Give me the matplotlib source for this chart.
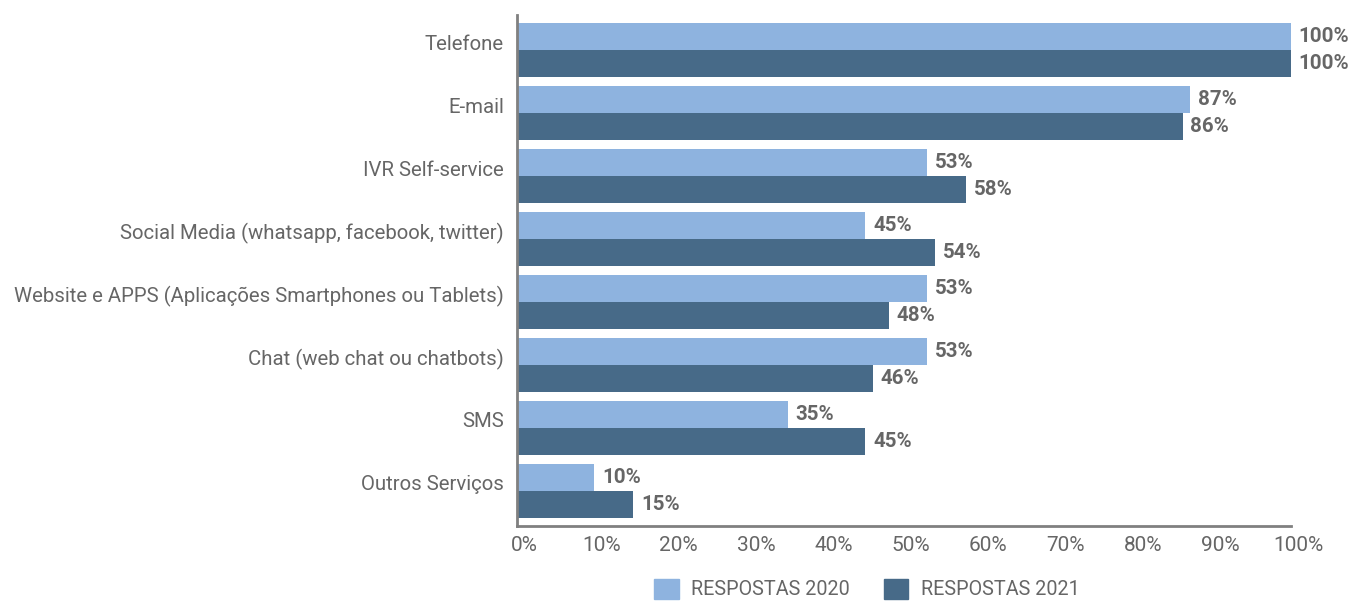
import numpy as np
import matplotlib.pyplot as plt
from matplotlib.patches import Patch
from matplotlib.transforms import ScaledTranslation

canais = ['Telefone', 'E-mail', 'IVR Self-service',
          'Social Media (whatsapp, facebook, twitter)',
          'Website e APPS (Aplicações Smartphones ou Tablets)',
          'Chat (web chat ou chatbots)', 'SMS', 'Outros Serviços']
resp_2020 = [100, 87, 53, 45, 53, 53, 35, 10]
resp_2021 = [100, 86, 58, 54, 48, 46, 45, 15]

cor_2020 = '#8EB3DF'
cor_2021 = '#476A88'
cinza = '#666666'

plt.rcParams['font.family'] = ['Roboto', 'DejaVu Sans']

fig = plt.figure(figsize=(13.54, 6.02), dpi=100)
ax = fig.add_axes([517 / 1354, 1 - 526 / 602, 774 / 1354, 511 / 602])

y = np.arange(len(canais))
h = 0.43
b1 = ax.barh(y - h / 2, resp_2020, height=h, color=cor_2020)
b2 = ax.barh(y + h / 2, resp_2021, height=h, color=cor_2021)

for barras, vals in ((b1, resp_2020), (b2, resp_2021)):
    for bar, v in zip(barras, vals):
        ax.text(bar.get_width() + 1.0, bar.get_y() + bar.get_height() / 2,
                f'{v}%', va='center', ha='left', fontsize=14.8,
                fontweight='bold', color=cinza)

ax.set_ylim(len(canais) - 0.44, -0.56)
ax.set_xlim(0, 100)
ax.set_yticks(y)
ax.set_yticklabels(canais, fontsize=14.7, color=cinza)
ax.set_xticks(np.arange(0, 101, 10))
ax.set_xticklabels([f'{t}%' for t in range(0, 101, 10)], fontsize=15, color=cinza)
ax.tick_params(axis='y', length=0, pad=9.5)
ax.tick_params(axis='x', length=0, pad=7)

# category names sit a little above the middle of each bar pair,
# percent ticks a little to the right of their gridpoint
sobe = ScaledTranslation(0, 8 / 100, fig.dpi_scale_trans)
for lbl in ax.get_yticklabels():
    lbl.set_transform(lbl.get_transform() + sobe)
direita = ScaledTranslation(7 / 100, 0, fig.dpi_scale_trans)
for lbl in ax.get_xticklabels():
    lbl.set_transform(lbl.get_transform() + direita)

for s in ('top', 'right'):
    ax.spines[s].set_visible(False)
for s in ('left', 'bottom'):
    ax.spines[s].set_color('#808080')
    ax.spines[s].set_linewidth(2)

handles = [Patch(color=cor_2020, label='RESPOSTAS 2020'),
           Patch(color=cor_2021, label='RESPOSTAS 2021')]
fig.legend(handles=handles, loc='center', bbox_to_anchor=(867 / 1354, 1 - 589 / 602),
           ncol=2, frameon=False, fontsize=14.2, labelcolor=cinza,
           handlelength=1.25, handleheight=1.2, columnspacing=1.7, handletextpad=0.65)

fig.savefig('out.png', dpi=100)
